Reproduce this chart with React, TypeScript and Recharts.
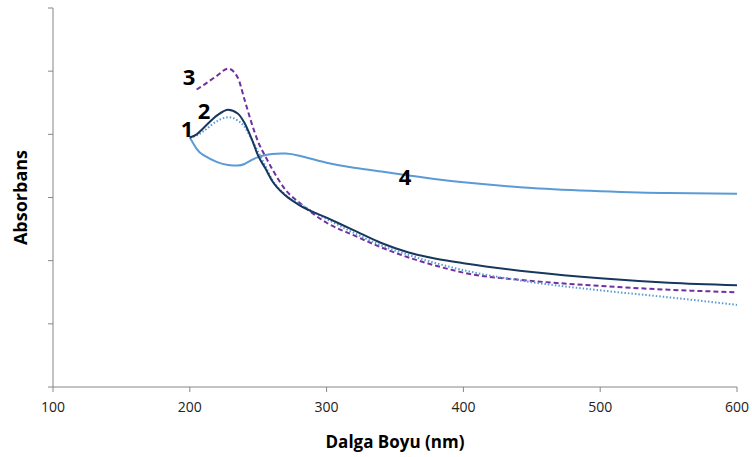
import { LineChart, Line, XAxis, YAxis, ReferenceDot } from 'recharts';

// wavelength (nm)
const wavelengths = [200, 205, 210, 220, 228, 235, 240, 245, 250, 255, 260, 270, 280, 300, 320, 340, 360, 380, 400, 450, 500, 550, 600];

// absorbance curves (arbitrary units)
const sample1 = [3.95, 4.0, 4.1, 4.3, 4.39, 4.33, 4.18, 3.94, 3.66, 3.47, 3.27, 3.03, 2.88, 2.68, 2.48, 2.28, 2.13, 2.03, 1.96, 1.82, 1.72, 1.65, 1.61];
const sample2 = [3.95, 3.98, 4.05, 4.21, 4.27, 4.22, 4.12, 3.93, 3.72, 3.51, 3.29, 3.04, 2.9, 2.66, 2.44, 2.24, 2.09, 1.96, 1.85, 1.66, 1.53, 1.42, 1.3];
const sample3 = [null, 4.71, 4.78, 4.93, 5.04, 4.9, 4.55, 4.19, 3.88, 3.66, 3.46, 3.12, 2.92, 2.6, 2.4, 2.21, 2.05, 1.92, 1.81, 1.68, 1.6, 1.54, 1.5];
const sample4 = [3.95, 3.77, 3.67, 3.56, 3.515, 3.505, 3.53, 3.59, 3.64, 3.67, 3.69, 3.695, 3.66, 3.55, 3.47, 3.41, 3.35, 3.29, 3.24, 3.15, 3.1, 3.07, 3.06];

const xTicks = [100, 200, 300, 400, 500, 600];
const yTicks = [0, 1, 2, 3, 4, 5, 6];

// curve number labels placed in data space
const curveLabels = ['1', '2', '3', '4'];
const curveLabelX = [197.9, 210.4, 199.4, 357.3];
const curveLabelY = [4.08, 4.36, 4.9, 3.32];

const data = wavelengths.map((w, i) => ({
  w,
  s1: sample1[i],
  s2: sample2[i],
  s3: sample3[i],
  s4: sample4[i],
}));

const axisColor = '#868686';
const font = '"Open Sans", sans-serif';

const YTitle = ({ viewBox }: any) => (
  <text
    transform={`translate(${viewBox.x + 20}, ${viewBox.y + viewBox.height / 2}) rotate(-90)`}
    textAnchor="middle"
    dominantBaseline="central"
    fontFamily={font}
    fontWeight="bold"
    fontSize={18}
    fill="#000"
  >
    Absorbans
  </text>
);

export default function App() {
  return (
    <div style={{ position: 'absolute', left: 0, top: 0, background: '#fff' }}>
      <LineChart width={752} height={457} data={data} margin={{ top: 8, right: 15, left: 0, bottom: 0 }}>
        <XAxis
          dataKey="w"
          type="number"
          domain={[100, 600]}
          ticks={xTicks}
          height={70}
          stroke={axisColor}
          tickSize={5}
          tick={{ fill: '#222', fontSize: 14, fontFamily: font }}
          tickMargin={10}
          label={{ value: 'Dalga Boyu (nm)', position: 'insideBottom', offset: 9, fill: '#000', fontSize: 17, fontWeight: 'bold', fontFamily: font }}
        />
        <YAxis
          type="number"
          domain={[0, 6]}
          ticks={yTicks}
          width={53}
          stroke={axisColor}
          tickSize={5}
          tickFormatter={() => ''}
          label={<YTitle />}
        />
        <Line type="natural" dataKey="s4" stroke="#5B9BD5" strokeWidth={2} dot={false} isAnimationActive={false} />
        <Line type="monotone" dataKey="s3" stroke="#7030A0" strokeWidth={2} strokeDasharray="5 3" dot={false} isAnimationActive={false} />
        <Line type="monotone" dataKey="s2" stroke="#5B9BD5" strokeWidth={2} strokeDasharray="1.5 2" dot={false} isAnimationActive={false} />
        <Line type="monotone" dataKey="s1" stroke="#17375E" strokeWidth={2} dot={false} isAnimationActive={false} />
        {curveLabels.map((txt, i) => (
          <ReferenceDot
            key={txt}
            x={curveLabelX[i]}
            y={curveLabelY[i]}
            r={0}
            fill="none"
            stroke="none"
            label={{ value: txt, position: 'center', fill: '#000', fontSize: 22, fontWeight: 'bold', fontFamily: font }}
          />
        ))}
      </LineChart>
    </div>
  );
}
